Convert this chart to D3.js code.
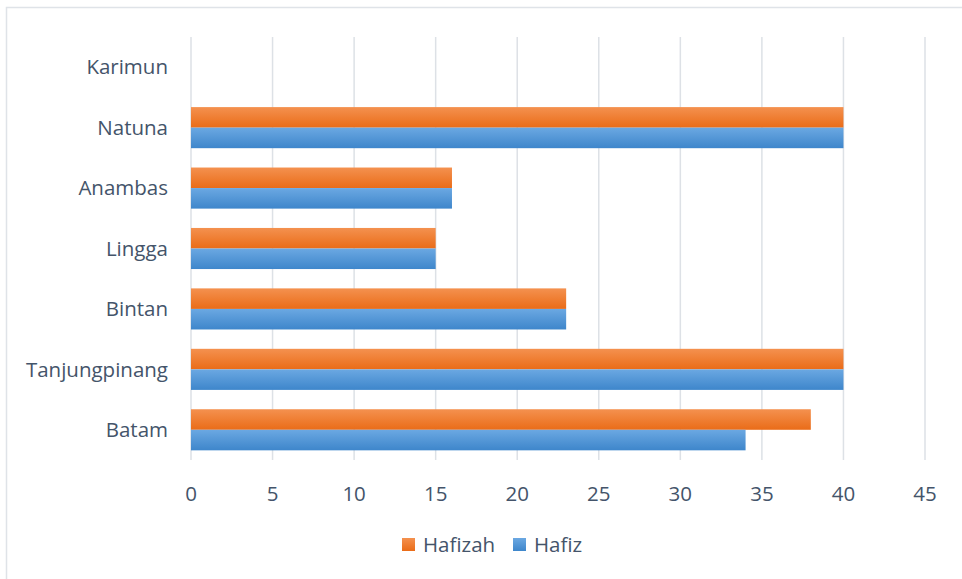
<!DOCTYPE html>
<html>
<head>
<meta charset="utf-8">
<script src="https://cdn.jsdelivr.net/npm/d3@7"></script>
<style>
  body { margin: 0; background: #fff; }
</style>
</head>
<body>
<div id="chart"></div>
<script>
const categories = ["Karimun", "Natuna", "Anambas", "Lingga", "Bintan", "Tanjungpinang", "Batam"];
const hafizah = [0, 40, 16, 15, 23, 40, 38];
const hafiz = [0, 40, 16, 15, 23, 40, 34];
const xTicks = [0, 5, 10, 15, 20, 25, 30, 35, 40, 45];

let w = 962, h = 579;
let margin = {top: 37, right: 37, bottom: 119, left: 191};
const font = "'Open Sans', sans-serif";
const fontSize = "20.5px";
const textColor = "#44546a";

const svg = d3.select("#chart").append("svg")
    .attr("width", w).attr("height", h);

// gradients
const defs = svg.append("defs");
let grads = [
    {id: "gOrange", top: "#f4914f", bottom: "#ea6c18"},
    {id: "gBlue", top: "#6ba8e2", bottom: "#3e86cb"}
];
grads.forEach(g => {
    let lg = defs.append("linearGradient").attr("id", g.id)
        .attr("x1", 0).attr("y1", 0).attr("x2", 0).attr("y2", 1);
    lg.append("stop").attr("offset", "0%").attr("stop-color", g.top);
    lg.append("stop").attr("offset", "100%").attr("stop-color", g.bottom);
});

// outer frame
svg.append("rect")
    .attr("x", 6.5).attr("y", 7.5)
    .attr("width", w).attr("height", h)
    .attr("fill", "none")
    .attr("stroke", "#dfe3e8")
    .attr("stroke-width", 1.5);

let xScale = d3.scaleLinear()
    .domain([0, 45])
    .range([margin.left, w - margin.right]);
let yScale = d3.scaleBand()
    .domain(categories)
    .range([margin.top, h - margin.bottom])
    .paddingInner(0.32).paddingOuter(0.16);

// gridlines
svg.append("g")
    .selectAll("line")
    .data(xTicks)
    .enter()
    .append("line")
    .attr("x1", d => xScale(d)).attr("x2", d => xScale(d))
    .attr("y1", margin.top).attr("y2", h - margin.bottom)
    .attr("stroke", "#dde1e6")
    .attr("stroke-width", 1.5);

let bh = yScale.bandwidth() / 2;

// Hafizah (top)
svg.append("g")
    .selectAll("rect")
    .data(categories)
    .enter()
    .append("rect")
    .attr("x", xScale(0))
    .attr("y", d => yScale(d))
    .attr("width", (d, i) => xScale(hafizah[i]) - xScale(0))
    .attr("height", bh)
    .attr("fill", "url(#gOrange)");

// Hafiz (bottom)
svg.append("g")
    .selectAll("rect")
    .data(categories)
    .enter()
    .append("rect")
    .attr("x", xScale(0))
    .attr("y", d => yScale(d) + bh)
    .attr("width", (d, i) => xScale(hafiz[i]) - xScale(0))
    .attr("height", bh)
    .attr("fill", "url(#gBlue)");

// x axis labels
svg.append("g")
    .selectAll("text")
    .data(xTicks)
    .enter()
    .append("text")
    .attr("x", d => xScale(d))
    .attr("y", 501)
    .attr("text-anchor", "middle")
    .attr("font-family", font)
    .attr("font-size", fontSize)
    .attr("fill", textColor)
    .text(d => d);

// category labels
svg.append("g")
    .selectAll("text")
    .data(categories)
    .enter()
    .append("text")
    .attr("x", 168)
    .attr("y", d => yScale(d) + yScale.bandwidth() / 2)
    .attr("dy", "0.35em")
    .attr("text-anchor", "end")
    .attr("font-family", font)
    .attr("font-size", fontSize)
    .attr("fill", textColor)
    .text(d => d);

// legend
let legend = [
    {label: "Hafizah", fill: "url(#gOrange)", x: 402},
    {label: "Hafiz", fill: "url(#gBlue)", x: 513}
];
legend.forEach(l => {
    svg.append("rect")
        .attr("x", l.x).attr("y", 538)
        .attr("width", 13).attr("height", 13)
        .attr("fill", l.fill);
    svg.append("text")
        .attr("x", l.x + 21).attr("y", 545)
        .attr("dy", "0.35em")
        .attr("font-family", font)
        .attr("font-size", fontSize)
        .attr("fill", textColor)
        .text(l.label);
});
</script>
</body>
</html>
